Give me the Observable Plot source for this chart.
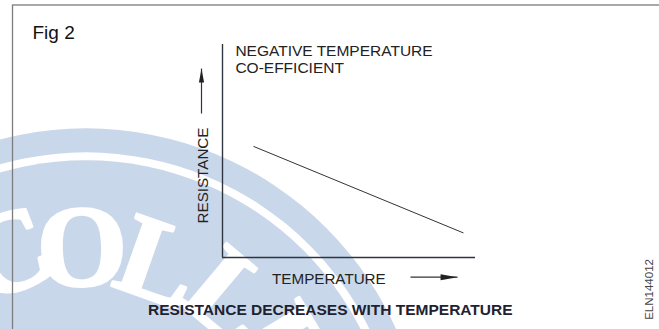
<!DOCTYPE html>
<html><head><meta charset="utf-8">
<script src="https://cdn.jsdelivr.net/npm/d3@7"></script>
<script src="https://cdn.jsdelivr.net/npm/@observablehq/plot@0.6"></script>
<style>
html,body{margin:0;padding:0;background:#fff;overflow:hidden;}
#chart svg{display:block;overflow:hidden;}
</style></head><body><div id="chart"></div>
<script>
// ---- curve data (temperature vs resistance, arbitrary units 0-100) ----
const temperature = [12.4, 95.1];
const resistance = [52.1, 11.6];

// ---- texts ----
const figLabel = "Fig 2";
const curveTitle = ["NEGATIVE TEMPERATURE", "CO-EFFICIENT"];
const yLabel = "RESISTANCE";
const xLabel = "TEMPERATURE";
const caption = "RESISTANCE DECREASES WITH TEMPERATURE";
const figCode = "ELN144012";

// ---- label anchors (data units) ----
const figPos = [-75.1, 102.5];
const titlePos = [5.1, 94.8, 86.6];
const yLabelPos = [-5.8, 38.5];
const xLabelPos = [19.6, -12.3];
const captionPos = [42.6, -26.9];
const codePos = [170.2, -15.0];

// ---- direction arrows (data units) ----
const arrowX1 = [-8.3, 74.3];
const arrowY1 = [67.6, -9.25];
const arrowX2 = [-8.3, 92.9];
const arrowY2 = [88.7, -9.25];

// ---- watermark seal ----
const sealCenter = [-54, -99];
const sealRings = [340, 316, 308];
const sealLetters = ["C", "O", "L", "L", "E"];
const sealAngles = [-20, -1, 19.5, 40, 59];
const sealLetterRadius = [228, 220, 218, 224, 232];

const ink = "#222";
const sealBlue = "#c9d7ea";

const curve = temperature.map((t, i) => ({t, r: resistance[i]}));
const arrows = arrowX1.map((x1, i) => ({x1, y1: arrowY1[i], x2: arrowX2[i], y2: arrowY2[i]}));

const headUp = {draw(ctx) { ctx.moveTo(0, 0); ctx.lineTo(2.6, 14); ctx.lineTo(-2.6, 14); ctx.closePath(); }};
const headRight = {draw(ctx) { ctx.moveTo(0, 0); ctx.lineTo(-17, 3); ctx.lineTo(-17, -3); ctx.closePath(); }};

const sans = "Liberation Sans, Arial, Helvetica, sans-serif";

const sealMarks = [
  ...sealRings.map((r, i) => Plot.dot([sealCenter], {x: d => d[0], y: d => d[1], r, fill: i === 1 ? "#fff" : sealBlue, stroke: "none"})),
  ...sealLetters.map((ch, i) => {
    const a = sealAngles[i] * Math.PI / 180, rr = sealLetterRadius[i];
    return Plot.text([ch], {x: () => sealCenter[0], y: () => sealCenter[1], text: d => d,
      dx: rr * Math.sin(a), dy: -rr * Math.cos(a), rotate: sealAngles[i],
      fontSize: 116, fontWeight: "bold", fontFamily: "Liberation Serif, Times New Roman, serif",
      fill: "#fff", stroke: "#fff", strokeWidth: 3, textAnchor: "middle", lineAnchor: "middle"});
  })
];

const chart = Plot.plot({
  width: 659, height: 329,
  marginLeft: 222, marginRight: 184, marginTop: 44, marginBottom: 72,
  style: {background: "#fff", overflow: "hidden"},
  x: {domain: [0, 100], axis: null},
  y: {domain: [0, 100], axis: null},
  marks: [
    ...sealMarks,
    Plot.frame({stroke: "#7c7c7c", strokeWidth: 1.3, insetLeft: -210, insetTop: -39.5, insetRight: -220, insetBottom: -120}),
    Plot.ruleX([0], {stroke: "#2e3440", strokeWidth: 1.4}),
    Plot.ruleY([0], {stroke: "#2e3440", strokeWidth: 1.4}),
    Plot.line(curve, {x: "t", y: "r", stroke: "#333", strokeWidth: 1}),
    Plot.link(arrows, {x1: "x1", y1: "y1", x2: "x2", y2: "y2", stroke: "#333", strokeWidth: 1.2}),
    Plot.dot([arrows[0]], {x: "x2", y: "y2", symbol: headUp, fill: "#222", stroke: "none", r: 4}),
    Plot.dot([arrows[1]], {x: "x2", y: "y2", symbol: headRight, fill: "#222", stroke: "none", r: 4}),
    Plot.text([figLabel], {x: () => figPos[0], y: () => figPos[1], text: d => d, fontSize: 19, fontFamily: sans, fill: "#111", textAnchor: "start", lineAnchor: "bottom"}),
    Plot.text(curveTitle, {x: () => titlePos[0], y: (d, i) => titlePos[1 + i], text: d => d, fontSize: 15.5, fontFamily: sans, fill: ink, textAnchor: "start", lineAnchor: "bottom"}),
    Plot.text([yLabel], {x: () => yLabelPos[0], y: () => yLabelPos[1], text: d => d, rotate: -90, fontSize: 15.2, fontFamily: sans, fill: ink, textAnchor: "middle", lineAnchor: "bottom"}),
    Plot.text([xLabel], {x: () => xLabelPos[0], y: () => xLabelPos[1], text: d => d, fontSize: 15.2, fontFamily: sans, fill: ink, textAnchor: "start", lineAnchor: "bottom"}),
    Plot.text([caption], {x: () => captionPos[0], y: () => captionPos[1], text: d => d, fontSize: 15.5, fontWeight: "bold", fontFamily: sans, fill: "#1e2230", textAnchor: "middle", lineAnchor: "bottom"}),
    Plot.text([figCode], {x: () => codePos[0], y: () => codePos[1], text: d => d, rotate: -90, fontSize: 11.5, fontFamily: sans, fill: "#444", textAnchor: "middle", lineAnchor: "bottom"})
  ]
});
document.getElementById("chart").appendChild(chart);
</script>
</body></html>
